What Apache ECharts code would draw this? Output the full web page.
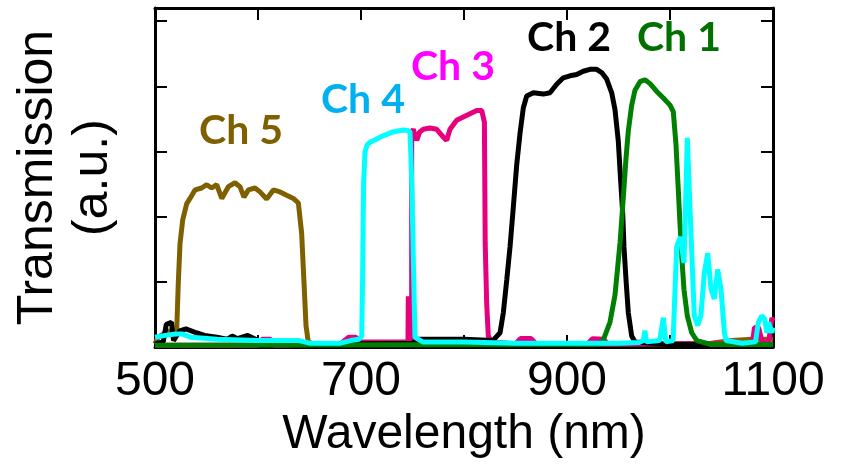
<!DOCTYPE html>
<html><head><meta charset="utf-8">
<script src="https://cdn.jsdelivr.net/npm/echarts@6/dist/echarts.min.js"></script>
<style>html,body{margin:0;padding:0;background:#fff}#c{width:844px;height:464px}</style>
</head><body><div id="c"></div>
<script>
// Tick labels shown on the wavelength axis
const xTickLabels = [500, 700, 900, 1100];
// Channel names
const channelNames = ['Ch 5', 'Ch 3', 'Ch 2', 'Ch 1', 'Ch 4'];

// [wavelength (nm), transmission (a.u.)]
const ch5Data = [[500,0.05],[503,0.15],[508,0.2],[513,0.25],[518,0.22],[521,0.22],[522.6,0.98],[524.3,1.59],[526.9,1.95],[530.8,2.2],[534,2.28],[538.8,2.41],[545.3,2.44],[550.2,2.49],[555,2.44],[559.9,2.49],[564.8,2.28],[571.2,2.46],[577.7,2.52],[582.5,2.46],[586.4,2.3],[590.6,2.41],[597.1,2.44],[601.9,2.38],[608.4,2.27],[614.9,2.41],[621.4,2.38],[627.8,2.33],[634.3,2.28],[639.2,2.21],[642.4,1.74],[644.7,0.98],[646.6,0.33],[648.8,0.08],[655,0.04],[700,0.04],[800,0.04],[900,0.04],[1000,0.05],[1040,0.06],[1060,0.1],[1080,0.12],[1100,0.12]];

const ch4Data = [[500,0.15],[510,0.18],[520,0.2],[527,0.2],[535,0.15],[560,0.12],[600,0.1],[640,0.1],[650,0.06],[680,0.06],[690,0.1],[698,0.12],[700.7,0.17],[701.5,1.0],[702.5,2.5],[703.9,3.0],[706,3.1],[708.7,3.14],[715.2,3.19],[721.4,3.24],[731,3.3],[740.8,3.33],[745.6,3.32],[747.6,3.3],[748.5,2.9],[749.5,2.4],[751,1.2],[752.4,0.15],[760,0.08],[800,0.08],[850,0.06],[900,0.06],[950,0.06],[970,0.07],[974,0.1],[975.7,0.25],[977,0.08],[990,0.1],[993.5,0.45],[996,0.08],[1003,0.1],[1006.5,1.54],[1010,1.69],[1013.6,1.29],[1016.8,3.21],[1020,1.89],[1023.6,0.48],[1026.9,0.33],[1030,0.48],[1033.3,1.13],[1036.6,1.44],[1039.8,0.89],[1043,0.74],[1046.3,1.19],[1049.5,0.89],[1052.8,0.22],[1054.4,0.1],[1070,0.06],[1083,0.08],[1085.8,0.38],[1089,0.48],[1092,0.43],[1094,0.22],[1095.7,0.38],[1099,0.22],[1100,0.3]];

const ch3Data = [[500,0.03],[600,0.03],[604,0.12],[612,0.12],[616,0.03],[680,0.05],[688,0.15],[695,0.15],[700,0.08],[745.6,0.08],[745.9,0.78],[746.3,0.08],[749.2,0.1],[749.2,3.3],[750.8,3.34],[754.1,3.17],[757,3.3],[760.5,3.34],[767,3.36],[773.5,3.34],[779.9,3.22],[783.2,3.17],[786.4,3.34],[792.9,3.48],[799.3,3.53],[805.8,3.58],[812.3,3.63],[817.2,3.63],[819.8,3.45],[820.6,1.59],[822,0.68],[823.6,0.17],[826.9,0.08],[850,0.05],[855,0.13],[865,0.13],[870,0.05],[920,0.05],[925,0.13],[935,0.12],[940,0.05],[1080,0.05],[1082,0.3],[1086,0.3],[1090,0.05],[1096,0.1],[1099,0.45],[1100,0.4]];

const ch2Data = [[500,0.05],[508,0.08],[511,0.35],[516,0.38],[518,0.1],[524,0.25],[530,0.28],[540,0.22],[548,0.18],[560,0.15],[570,0.12],[575,0.17],[580,0.13],[590,0.18],[600,0.1],[640,0.05],[700,0.05],[750,0.06],[755,0.12],[800,0.12],[828,0.1],[835,0.22],[838.2,0.53],[841.5,1.03],[844.7,1.54],[847.9,2.15],[851.2,2.8],[854.4,3.28],[857.6,3.67],[860.9,3.85],[867.3,3.9],[877,3.88],[883.5,3.9],[890,4.03],[896.4,4.13],[902.9,4.16],[909.4,4.18],[915.8,4.23],[922.3,4.26],[928.8,4.26],[933.7,4.21],[938.5,4.11],[943.4,3.9],[946.6,3.64],[949.8,3.16],[952.1,2.55],[954.1,2.05],[955.3,1.54],[957.3,1.03],[959.5,0.53],[962.8,0.17],[966,0.08],[1000,0.04],[1100,0.04]];

const ch1Data = [[500,0.03],[930,0.04],[935,0.1],[941.7,0.38],[946.6,0.8],[951.5,1.6],[954.7,2.3],[957.3,2.9],[959.5,3.31],[962.8,3.71],[966,3.94],[970.9,4.07],[975.7,4.1],[980.6,4.04],[987.1,3.92],[993.5,3.82],[1000,3.71],[1003.2,3.61],[1005.8,3.11],[1008.1,2.4],[1009.7,1.89],[1011.4,1.39],[1013.6,0.88],[1016.8,0.48],[1021.1,0.22],[1026,0.1],[1040,0.04],[1100,0.04]];

const lineColors = {'Ch 5':'#7F6000','Ch 4':'#00FFFF','Ch 3':'#E6007E','Ch 2':'#000000','Ch 1':'#008000'};
const labelColors = {'Ch 5':'#7F6000','Ch 4':'#00B0F0','Ch 3':'#FF00FF','Ch 2':'#000000','Ch 1':'#007000'};
const dataByName = {'Ch 5':ch5Data,'Ch 4':ch4Data,'Ch 3':ch3Data,'Ch 2':ch2Data,'Ch 1':ch1Data};
const labelCoord = {'Ch 5':[583.5,3.32],'Ch 4':[701.9,3.79],'Ch 3':[789.3,4.3],'Ch 2':[902,4.74],'Ch 1':[1008.7,4.74]};

const chart = echarts.init(document.getElementById('c'), null, {renderer:'canvas'});
const axisFont = 'Liberation Sans, Arial, sans-serif';
const frame = {show:true, onZero:false, lineStyle:{color:'#000', width:3}};
const ticks = {show:true, inside:true, length:12, lineStyle:{color:'#000', width:2}};

const option = {
  animation:false,
  backgroundColor:'#fff',
  grid:{left:155, right:71, top:8, bottom:112.5, containLabel:false},
  xAxis:[
    {type:'value', min:500, max:1100, interval:100, position:'bottom',
     axisLine:frame, axisTick:ticks, splitLine:{show:false},
     axisLabel:{show:true, margin:11, color:'#000', fontFamily:axisFont, fontSize:48,
       showMinLabel:true, showMaxLabel:true,
       formatter:v=> xTickLabels.includes(v) ? String(v) : ''},
     name:'Wavelength (nm)', nameLocation:'middle', nameGap:60,
     nameTextStyle:{color:'#000', fontFamily:axisFont, fontSize:48}},
    {type:'value', min:500, max:1100, interval:100, position:'top',
     axisLine:frame, axisTick:ticks, splitLine:{show:false}, axisLabel:{show:false}}
  ],
  yAxis:[
    {type:'value', min:0, max:5.2, interval:1, position:'left',
     axisLine:frame, axisTick:ticks, splitLine:{show:false}, axisLabel:{show:false},
     name:'Transmission\n(a.u.)', nameLocation:'middle', nameRotate:90, nameGap:34,
     nameTextStyle:{color:'#000', fontFamily:axisFont, fontSize:50, lineHeight:55, align:'center'}},
    {type:'value', min:0, max:5.2, interval:1, position:'right',
     axisLine:frame, axisTick:ticks, splitLine:{show:false}, axisLabel:{show:false}}
  ],
  series: channelNames.map(n => ({
    name:n, type:'line', xAxisIndex:0, yAxisIndex:0,
    data:dataByName[n], showSymbol:false, symbol:'none',
    lineStyle:{color:lineColors[n], width:5}, itemStyle:{color:lineColors[n]},
    silent:true,
    markPoint:{symbol:'circle', symbolSize:1, itemStyle:{color:'rgba(0,0,0,0)'},
      silent:true,
      label:{show:true, position:'inside', formatter:'{b}', color:labelColors[n],
        fontFamily:'Lato, Open Sans, sans-serif', fontWeight:'bold', fontSize:41},
      data:[{name:n, coord:labelCoord[n]}]}
  }))
};
chart.setOption(option);
</script></body></html>
